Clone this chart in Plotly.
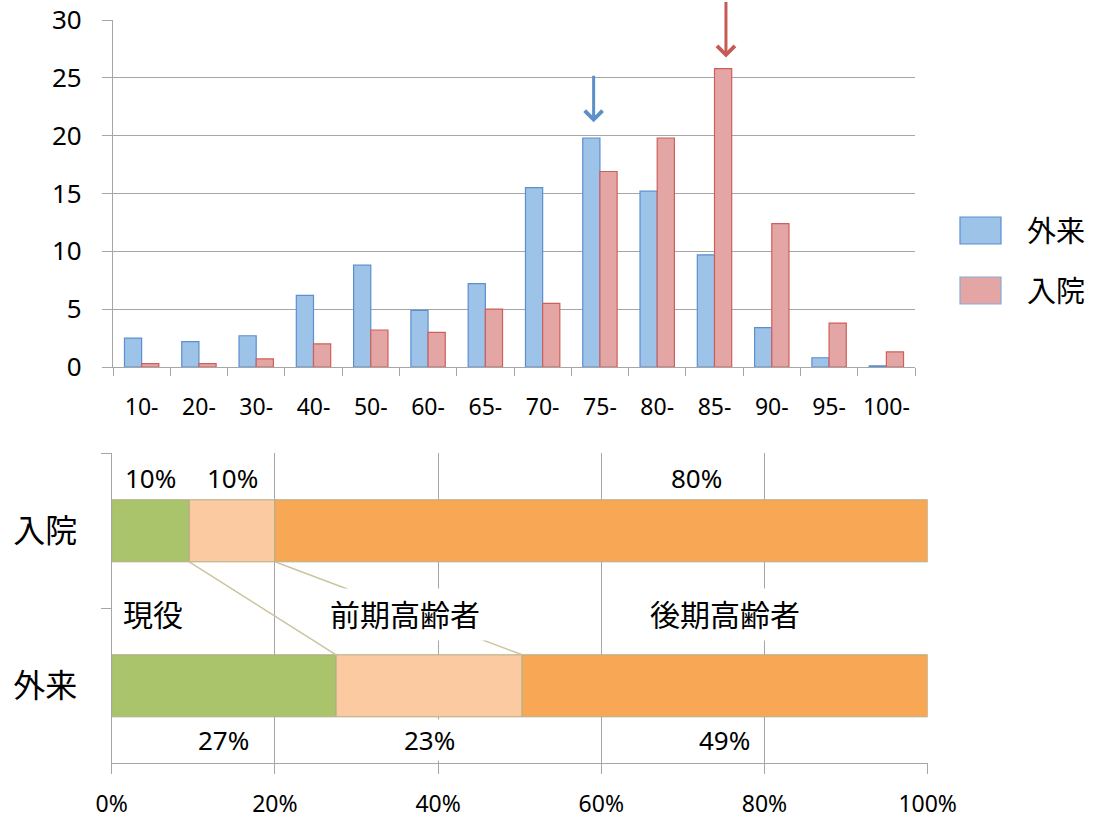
import plotly.graph_objects as go
import numpy as np

# ---------------- data ----------------
age_groups = ['10-', '20-', '30-', '40-', '50-', '60-', '65-', '70-', '75-', '80-', '85-', '90-', '95-', '100-']
outpatient = [2.5, 2.2, 2.7, 6.2, 8.8, 4.9, 7.2, 15.5, 19.8, 15.2, 9.7, 3.4, 0.8, 0.1]
inpatient = [0.3, 0.3, 0.7, 2.0, 3.2, 3.0, 5.0, 5.5, 16.9, 19.8, 25.8, 12.4, 3.8, 1.3]
series_names = ['外来', '入院']

rows = ['外来', '入院']
groups = ['現役', '前期高齢者', '後期高齢者']
share_outpatient = [27.5, 22.8, 49.7]
share_inpatient = [9.5, 10.5, 80.0]
labels_outpatient = ['27%', '23%', '49%']
labels_inpatient = ['10%', '10%', '80%']

# ---------------- style ----------------
W, H = 1095, 818
FONT = 'Noto Sans, Noto Sans CJK JP, sans-serif'
GRID = '#a6a6a6'
blue_fill, blue_line = '#9dc3e9', '#5b8fd0'
red_fill, red_line = '#e3a6a4', '#cf5f5a'
group_colors = ['#a9c46a', '#fbcaa1', '#f8a855']
leader_color = '#cbc49e'

def px_x(p):
    return p / W

def px_y(p):
    return 1 - p / H

fig = go.Figure()

# top: grouped bars
fig.add_trace(go.Bar(x=age_groups, y=outpatient, name=series_names[0], width=0.3, offset=-0.3,
                     marker=dict(color=blue_fill, line=dict(color=blue_line, width=1.2)),
                     xaxis='x', yaxis='y', showlegend=False))
fig.add_trace(go.Bar(x=age_groups, y=inpatient, name=series_names[1], width=0.3, offset=0.0,
                     marker=dict(color=red_fill, line=dict(color=red_line, width=1.2)),
                     xaxis='x', yaxis='y', showlegend=False))

# bottom: stacked horizontal bars
cum_out = np.concatenate([[0], np.cumsum(share_outpatient)[:-1]])
cum_in = np.concatenate([[0], np.cumsum(share_inpatient)[:-1]])
for i, g in enumerate(groups):
    fig.add_trace(go.Bar(orientation='h', y=rows, x=[share_outpatient[i], share_inpatient[i]],
                         base=[cum_out[i], cum_in[i]], width=0.4, name=g,
                         marker=dict(color=group_colors[i], line=dict(color='#b3ab88', width=1)),
                         xaxis='x2', yaxis='y2', showlegend=False))

annotations = []
shapes = []

# percentage labels
in_shift = [0, 0, 95]
for i in range(len(groups)):
    annotations.append(dict(x=cum_in[i] + share_inpatient[i] / 2, y=rows.index('入院') + 0.34,
                            xref='x2', yref='y2', text=labels_inpatient[i], showarrow=False,
                            xshift=in_shift[i], font=dict(size=26, color='black')))
    annotations.append(dict(x=cum_out[i] + share_outpatient[i] / 2, y=rows.index('外来') - 0.35,
                            xref='x2', yref='y2', text=labels_outpatient[i], showarrow=False,
                            bgcolor='white', borderpad=2, font=dict(size=26, color='black')))

# leader lines (between the two bars)
for k in (1, 2):
    shapes.append(dict(type='line', xref='x2', yref='y2', x0=cum_in[k], y0=1 - 0.2,
                       x1=cum_out[k], y1=0 + 0.2, line=dict(color=leader_color, width=1.5)))

# group names
grp_x = [0.6, 35.9, 75.1]
grp_anchor = ['left', 'center', 'center']
for i, g in enumerate(groups):
    annotations.append(dict(x=grp_x[i], y=0.46, xref='x2', yref='y2', text=g, showarrow=False,
                            xanchor=grp_anchor[i], bgcolor='white', borderpad=5,
                            font=dict(size=30, color='black')))

# arrows above peaks
ib = int(np.argmax(outpatient))
ir = int(np.argmax(inpatient))
annotations.append(dict(x=ib - 0.11, y=outpatient[ib] + 1.35, xref='x', yref='y', text='',
                        showarrow=True, ax=0, ay=-48, arrowhead=4, arrowsize=1.15, arrowwidth=3,
                        arrowcolor='#5b8fc9'))
annotations.append(dict(x=ir + 0.2, y=inpatient[ir] + 0.95, xref='x', yref='y', text='',
                        showarrow=True, ax=0, ay=-57, arrowhead=4, arrowsize=1.15, arrowwidth=3,
                        arrowcolor='#c65a55'))

# custom legend
leg = [(217, 244, blue_fill, blue_line), (277, 304, red_fill, '#8aa9d6')]
for name, (y0, y1, fc, lc) in zip(series_names, leg):
    shapes.append(dict(type='rect', xref='paper', yref='paper', x0=px_x(960), x1=px_x(1001),
                       y0=px_y(y1), y1=px_y(y0), fillcolor=fc, line=dict(color=lc, width=1.2)))
    annotations.append(dict(x=px_x(1025), y=px_y((y0 + y1) / 2), xref='paper', yref='paper',
                            text=name, showarrow=False, xanchor='left', yanchor='middle',
                            font=dict(size=29, color='black')))

fig.update_layout(
    width=W, height=H,
    margin=dict(l=0, r=0, t=0, b=0),
    paper_bgcolor='white', plot_bgcolor='white',
    barmode='overlay',
    font=dict(family=FONT, color='black'),
    showlegend=False,
    xaxis=dict(domain=[px_x(113), px_x(915)], type='category', range=[-0.5, 13.5],
               tickson='boundaries', ticks='outside', ticklen=8, tickcolor=GRID,
               showline=True, linecolor=GRID, linewidth=1.2, showgrid=False,
               tickfont=dict(size=23), ticklabelstandoff=19, automargin=False, anchor='y'),
    yaxis=dict(domain=[px_y(367), px_y(20)], range=[0, 30], dtick=5, showgrid=True,
               gridcolor=GRID, gridwidth=1.2, zeroline=False, ticks='outside', ticklen=10,
               tickcolor=GRID, showline=True, linecolor=GRID, linewidth=1.2,
               tickfont=dict(size=26), ticklabelstandoff=15, automargin=False, anchor='x'),
    xaxis2=dict(domain=[px_x(111.7), px_x(927.7)], range=[0, 100], tickvals=[0, 20, 40, 60, 80, 100],
                ticktext=['0%', '20%', '40%', '60%', '80%', '100%'],
                showgrid=True, gridcolor=GRID, gridwidth=1.2, zeroline=False,
                ticks='outside', ticklen=10, tickcolor=GRID, showline=True, linecolor=GRID,
                linewidth=1.2, tickfont=dict(size=23), ticklabelstandoff=10, automargin=False,
                anchor='y2'),
    yaxis2=dict(domain=[px_y(763.3), px_y(453.3)], type='category', categoryorder='array',
                categoryarray=rows, range=[-0.5, 1.5], tickson='boundaries', ticks='outside',
                ticklen=10, tickcolor=GRID, showline=True, linecolor=GRID, linewidth=1.2,
                showgrid=False, tickfont=dict(size=32), ticklabelstandoff=27, automargin=False,
                anchor='x2'),
    annotations=annotations,
    shapes=shapes,
)

fig.write_html('out.html', config={'displayModeBar': False},
               post_script="document.body.style.margin='0px';")
